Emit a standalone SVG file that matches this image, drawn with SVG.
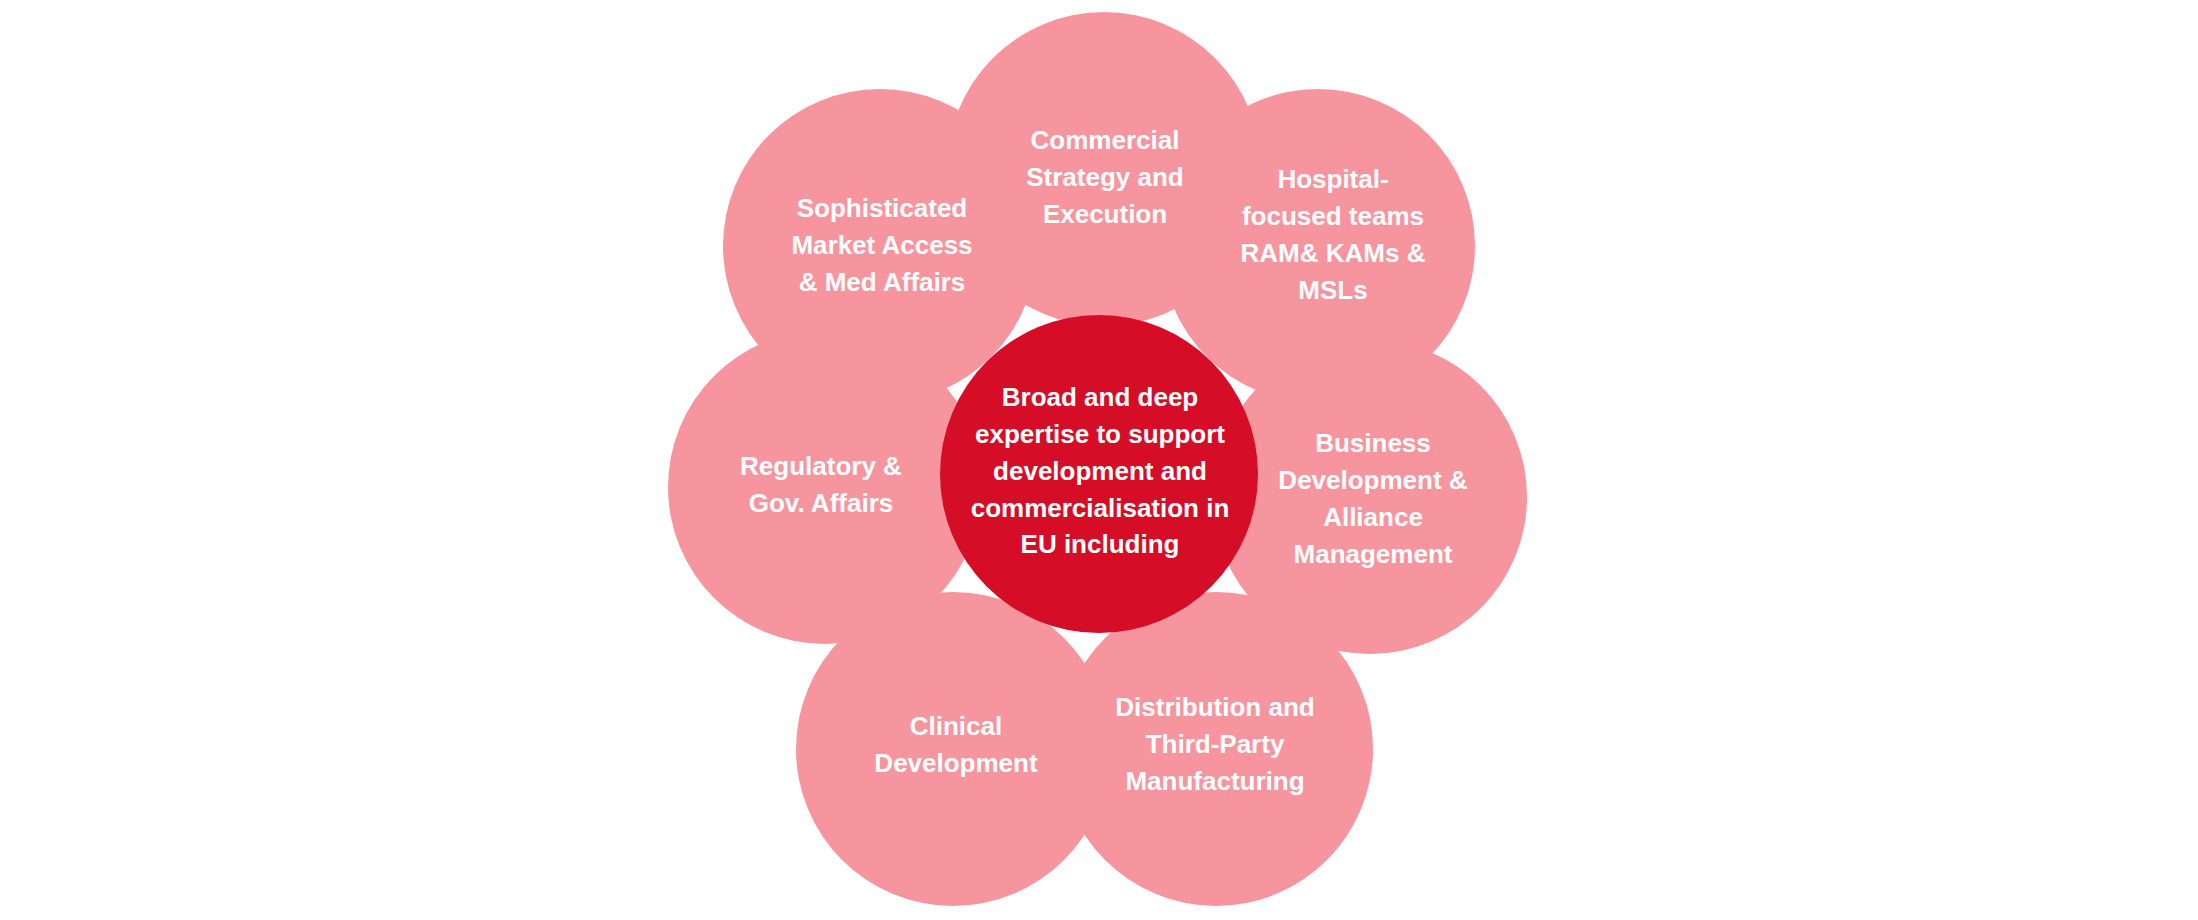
<svg xmlns="http://www.w3.org/2000/svg" width="2198" height="920" viewBox="0 0 2198 920">
<style>
.petal{fill:#F7959F}
.core{fill:#D50D26}
text{font-family:"Liberation Sans",Arial,sans-serif;font-weight:bold;font-size:26px;fill:#FFFFFF;text-anchor:middle}
</style>
<rect width="2198" height="920" fill="#FFFFFF"/>
<g id="connectors"></g>
<g id="petals">
<g id="n-commercial"><circle class="petal" cx="1104" cy="169" r="157"/></g>
<g id="n-market"><circle class="petal" cx="880" cy="246" r="157"/></g>
<g id="n-hospital"><circle class="petal" cx="1318" cy="246" r="157"/></g>
<g id="n-regulatory"><circle class="petal" cx="825" cy="487" r="157"/></g>
<g id="n-business"><circle class="petal" cx="1370" cy="497" r="157"/></g>
<g id="n-clinical"><circle class="petal" cx="953" cy="749" r="157"/></g>
<g id="n-distribution"><circle class="petal" cx="1216" cy="749" r="157"/></g>
</g>
<g id="n-center"><circle class="core" cx="1099" cy="474" r="159"/></g>
<g id="labels">
<text x="1105" y="149">Commercial</text>
<text x="1105" y="186">Strategy and</text>
<text x="1105" y="223">Execution</text>
<text x="882" y="217">Sophisticated</text>
<text x="882" y="254">Market Access</text>
<text x="882" y="291">&amp; Med Affairs</text>
<text x="1333" y="188">Hospital-</text>
<text x="1333" y="225">focused teams</text>
<text x="1333" y="262">RAM&amp; KAMs &amp;</text>
<text x="1333" y="299">MSLs</text>
<text x="821" y="475">Regulatory &amp;</text>
<text x="821" y="512">Gov. Affairs</text>
<text x="1373" y="452">Business</text>
<text x="1373" y="489">Development &amp;</text>
<text x="1373" y="526">Alliance</text>
<text x="1373" y="563">Management</text>
<text x="956" y="735">Clinical</text>
<text x="956" y="772">Development</text>
<text x="1215" y="716">Distribution and</text>
<text x="1215" y="753">Third-Party</text>
<text x="1215" y="790">Manufacturing</text>
<text x="1100" y="406">Broad and deep</text>
<text x="1100" y="443">expertise to support</text>
<text x="1100" y="480">development and</text>
<text x="1100" y="517">commercialisation in</text>
<text x="1100" y="553">EU including</text>
</g>
</svg>
